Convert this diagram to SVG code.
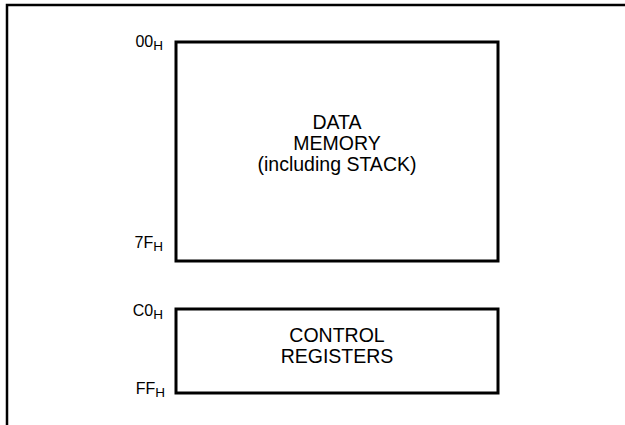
<svg xmlns="http://www.w3.org/2000/svg" width="625" height="425" viewBox="0 0 625 425">
<style>
.frame{fill:none;stroke:#000;stroke-width:2.5}
.box{fill:#fff;stroke:#000;stroke-width:3}
.t{font-family:"Liberation Sans",Arial,sans-serif;font-size:19.5px;fill:#000;text-anchor:middle}
.a{font-family:"Liberation Sans",Arial,sans-serif;font-size:16px;fill:#000;text-anchor:end}
.s{font-size:13.5px}
</style>
<rect width="625" height="425" fill="#fff"/>
<path class="frame" d="M7 426 V5 H626"/>
<g id="data-memory">
<rect class="box" x="176" y="42" width="322" height="219"/>
<text class="t" x="337" y="129">DATA</text>
<text class="t" x="337" y="150">MEMORY</text>
<text class="t" x="337" y="171">(including STACK)</text>
</g>
<g id="control-registers">
<rect class="box" x="176" y="309" width="322" height="84"/>
<text class="t" x="337" y="342">CONTROL</text>
<text class="t" x="337" y="363">REGISTERS</text>
</g>
<g id="labels">
<text class="a" x="163" y="47">00<tspan class="s" dy="3">H</tspan></text>
<text class="a" x="163" y="248">7F<tspan class="s" dy="3">H</tspan></text>
<text class="a" x="163" y="316">C0<tspan class="s" dy="3">H</tspan></text>
<text class="a" x="165" y="394">FF<tspan class="s" dy="3">H</tspan></text>
</g>
</svg>
